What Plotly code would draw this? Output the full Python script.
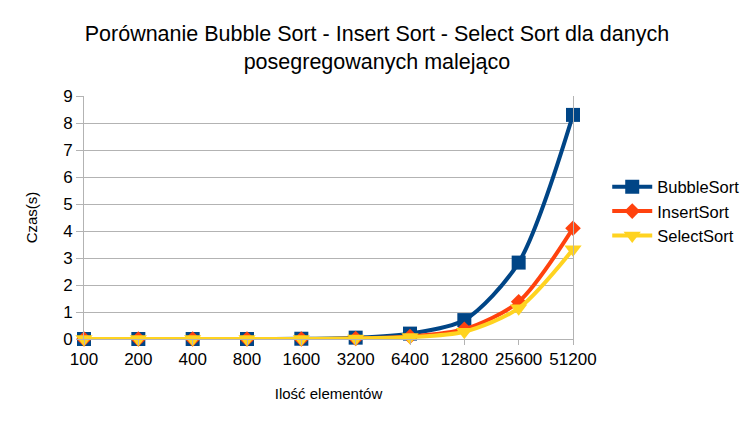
import plotly.graph_objects as go

categories = ["100", "200", "400", "800", "1600", "3200", "6400", "12800", "25600", "51200"]
bubble = [0.0, 0.0, 0.0, 0.0, 0.01, 0.05, 0.2, 0.7, 2.83, 8.3]
insert = [0.0, 0.0, 0.0, 0.0, 0.0, 0.02, 0.09, 0.36, 1.38, 4.1]
select = [0.0, 0.0, 0.0, 0.0, 0.0, 0.02, 0.07, 0.27, 1.14, 3.32]

fig = go.Figure()
fig.add_trace(go.Scatter(x=categories, y=bubble, name="BubbleSort", mode="lines+markers",
                         cliponaxis=False,
                         line=dict(color="#004586", width=4, shape="spline", smoothing=0.8),
                         marker=dict(symbol="square", size=14, color="#004586")))
fig.add_trace(go.Scatter(x=categories, y=insert, name="InsertSort", mode="lines+markers",
                         cliponaxis=False,
                         line=dict(color="#ff420e", width=4, shape="spline", smoothing=0.8),
                         marker=dict(symbol="diamond", size=12, color="#ff420e")))
fig.add_trace(go.Scatter(x=categories, y=select, name="SelectSort", mode="lines+markers",
                         cliponaxis=False,
                         line=dict(color="#ffd320", width=4, shape="spline", smoothing=0.8),
                         marker=dict(symbol="triangle-down", size=15, color="#ffd320")))

fig.update_layout(
    width=756, height=426,
    paper_bgcolor="white", plot_bgcolor="white",
    margin=dict(l=76, r=191, t=88, b=95, autoexpand=False),
    font=dict(family="Liberation Sans, Arial, sans-serif", color="#000000"),
    title=dict(text="Porównanie Bubble Sort - Insert Sort - Select Sort dla danych<br>posegregowanych malejąco",
               x=0.488, xanchor="center", y=0.922, yanchor="top",
               font=dict(size=21.5, family="Liberation Sans, Arial, sans-serif")),
    legend=dict(x=1.07, y=0.525, xanchor="left", yanchor="middle",
                font=dict(size=16.5), tracegroupgap=0, itemwidth=40),
    showlegend=True,
)
fig.update_xaxes(type="category", range=[0, 9], showgrid=False, showline=True,
                 linecolor="#b3b3b3", linewidth=1, ticks="outside", ticklen=5,
                 tickcolor="#b3b3b3", tickfont=dict(size=17), automargin=False,
                 title=dict(text="Ilość elementów", font=dict(size=15), standoff=20))
fig.update_yaxes(range=[0, 9], dtick=1, showgrid=True, gridcolor="#b3b3b3", gridwidth=1,
                 showline=True, mirror=True, linecolor="#b3b3b3", linewidth=1,
                 ticks="outside", ticklen=7, tickcolor="#b3b3b3", zeroline=False,
                 tickfont=dict(size=17), automargin=False,
                 title=dict(text="Czas(s)", font=dict(size=15), standoff=21))

fig.write_html("out.html")
